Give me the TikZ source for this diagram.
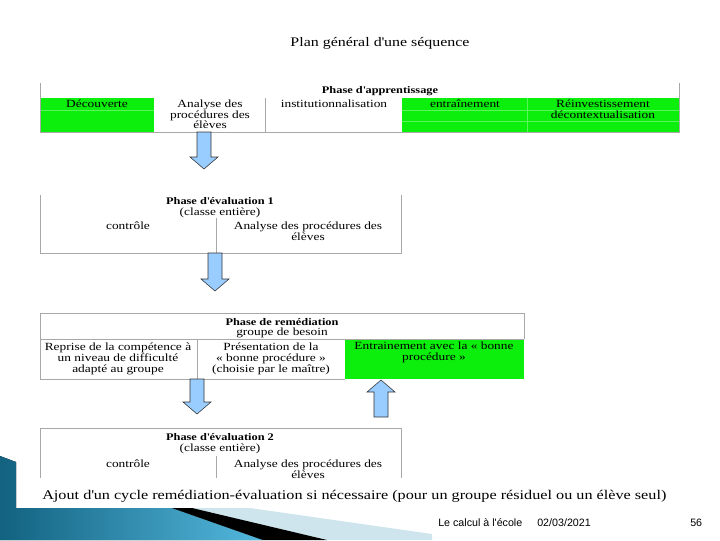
\documentclass[tikz,border=0pt]{standalone}
\usepackage{fontspec}
\setmainfont{Liberation Serif}[FakeStretch=1.22]
\newfontfamily\footfont{Liberation Sans}
\usetikzlibrary{calc}

\definecolor{cellgreen}{RGB}{12,238,12}
\definecolor{cellline}{RGB}{90,245,90}
\definecolor{rulegray}{RGB}{168,168,168}
\definecolor{arrowblue}{RGB}{153,204,255}
\definecolor{slidedark}{RGB}{18,98,128}
\definecolor{slidelight}{RGB}{84,184,222}
\definecolor{slidepale}{RGB}{206,229,237}

\newcommand{\tabfont}{\fontsize{7.8pt}{7.5pt}\selectfont}
\newcommand{\hdrfont}{\fontsize{7.2pt}{7.5pt}\selectfont\bfseries}
\newcommand{\apos}{\textquotesingle}

% block arrow from #1 (tail) to #2 (tip)
\newcommand{\blockarrow}[2]{%
  \coordinate (hb) at ($(#2)!0.3cm!(#1)$);
  \filldraw[barrow] ($(#1)!0.175cm!90:(#2)$) -- ($(hb)!0.175cm!90:(#2)$)
    -- ($(hb)!0.35cm!90:(#2)$) -- (#2) -- ($(hb)!0.35cm!-90:(#2)$)
    -- ($(hb)!0.175cm!-90:(#2)$) -- ($(#1)!0.175cm!-90:(#2)$) -- cycle;}

\begin{document}
\begin{tikzpicture}[x=0.025cm, y=-0.025cm,
    cell/.style={font=\tabfont, align=center, inner sep=0pt, anchor=north},
    hdr/.style={cell, font=\hdrfont},
    rule/.style={draw=rulegray, line width=0.4pt},
    greenbox/.style={fill=cellgreen},
    subline/.style={draw=cellline, line width=0.4pt},
    barrow/.style={fill=arrowblue, draw=black!80, line width=0.4pt},
    foot/.style={font=\footfont\fontsize{7.6pt}{8pt}\selectfont, anchor=base west, inner sep=0pt},
]
\useasboundingbox (0,0) rectangle (720,540);

% ===== Slide decoration =====
\fill[left color=slidedark, right color=slidelight]
  (0,456) -- (16,462) -- (16,508) -- (172,508) -- (263,540) -- (0,540) -- cycle;
\fill[slidepale] (190,508) -- (250,508) -- (432,534) -- (432,540) -- (327,540) -- cycle;
\fill[black] (172,508) -- (192,508) -- (327,540) -- (263,540) -- cycle;

% ===== Title =====
\node[font=\fontsize{9.3pt}{11pt}\selectfont] at (380,43) (title) {Plan général d\apos une séquence};

% ===== Phase d'apprentissage =====
\fill[greenbox] (40,98) rectangle (154,132);
\fill[greenbox] (402,98) rectangle (679,132);
\draw[subline] (40,110) -- (154,110);
\draw[subline] (402,110) -- (679,110);
\draw[subline] (402,121) -- (679,121);
\draw[subline] (527,98) -- (527,132);
\draw[rule] (40,83) -- (40,132) -- (679,132) -- (679,83);
\draw[rule] (265,98) -- (265,132);

\node[hdr] at (380,86) (appr) {Phase d\apos apprentissage};
\node[cell] at (97,100) (decouv) {Découverte};
\node[cell] at (210,100) (anaproc) {Analyse des\\procédures des\\élèves};
\node[cell] at (334,100) (instit) {institutionnalisation};
\node[cell] at (465,100) (entr) {entraînement};
\node[cell] at (603,100) (reinv) {Réinvestissement\\décontextualisation};

% ===== Phase d'évaluation 1 =====
\draw[rule] (40,195) -- (40,253) -- (401,253) -- (401,195);
\draw[rule] (216,218) -- (216,253);

\node[hdr] at (220,197) (evalA) {Phase d\apos évaluation 1};
\node[cell] at (220,208) (classeA) {(classe entière)};
\node[cell] at (128,222) (ctrlA) {contrôle};
\node[cell] at (308,222) (anaA) {Analyse des procédures des\\élèves};

% ===== Phase de remédiation =====
\fill[greenbox] (345,339) rectangle (524,379);
\draw[rule] (40,379) -- (40,313) -- (524,313) -- (524,339);
\draw[rule] (40,339) -- (524,339);
\draw[rule] (40,379) -- (345,379);
\draw[rule] (197,339) -- (197,379);

\node[hdr] at (282,318) (remed) {Phase de remédiation};
\node[cell] at (282,328) (besoin) {groupe de besoin};
\node[cell] at (118,343) (reprise) {Reprise de la compétence à\\un niveau de difficulté\\adapté au groupe};
\node[cell] at (271,343) (present) {Présentation de la\\« bonne procédure »\\(choisie par le maître)};
\node[cell] at (434,342) (entrbon) {Entrainement avec la « bonne\\procédure »};

% ===== Phase d'évaluation 2 =====
\draw[rule] (40,478) -- (40,428) -- (401,428) -- (401,478);
\draw[rule] (216,456) -- (216,478);

\node[hdr] at (220,433) (evalB) {Phase d\apos évaluation 2};
\node[cell] at (220,444) (classeB) {(classe entière)};
\node[cell] at (128,460) (ctrlB) {contrôle};
\node[cell] at (308,460) (anaB) {Analyse des procédures des\\élèves};

% ===== Arrows =====
\coordinate (a1s) at (204,132);
\coordinate (a1e) at (204,169);
\coordinate (a2s) at (215,253);
\coordinate (a2e) at (215,291);
\coordinate (a3s) at (197,379);
\coordinate (a3e) at (197,414);
\coordinate (a4s) at (381,417);
\coordinate (a4e) at (381,380);
\blockarrow{a1s}{a1e}
\blockarrow{a2s}{a2e}
\blockarrow{a3s}{a3e}
\blockarrow{a4s}{a4e}

% ===== Note and footer =====
\node[font=\fontsize{9.45pt}{11pt}\selectfont, anchor=base west, inner sep=0pt] at (42,499) (ajout)
  {Ajout d\apos un cycle remédiation-évaluation si nécessaire (pour un groupe résiduel ou un élève seul)};
\node[foot] at (438,526) (foottitle) {Le calcul à l\apos école};
\node[foot] at (537,526) (footdate) {02/03/2021};
\node[foot] at (690,526) (footnum) {56};

\end{tikzpicture}
\end{document}
